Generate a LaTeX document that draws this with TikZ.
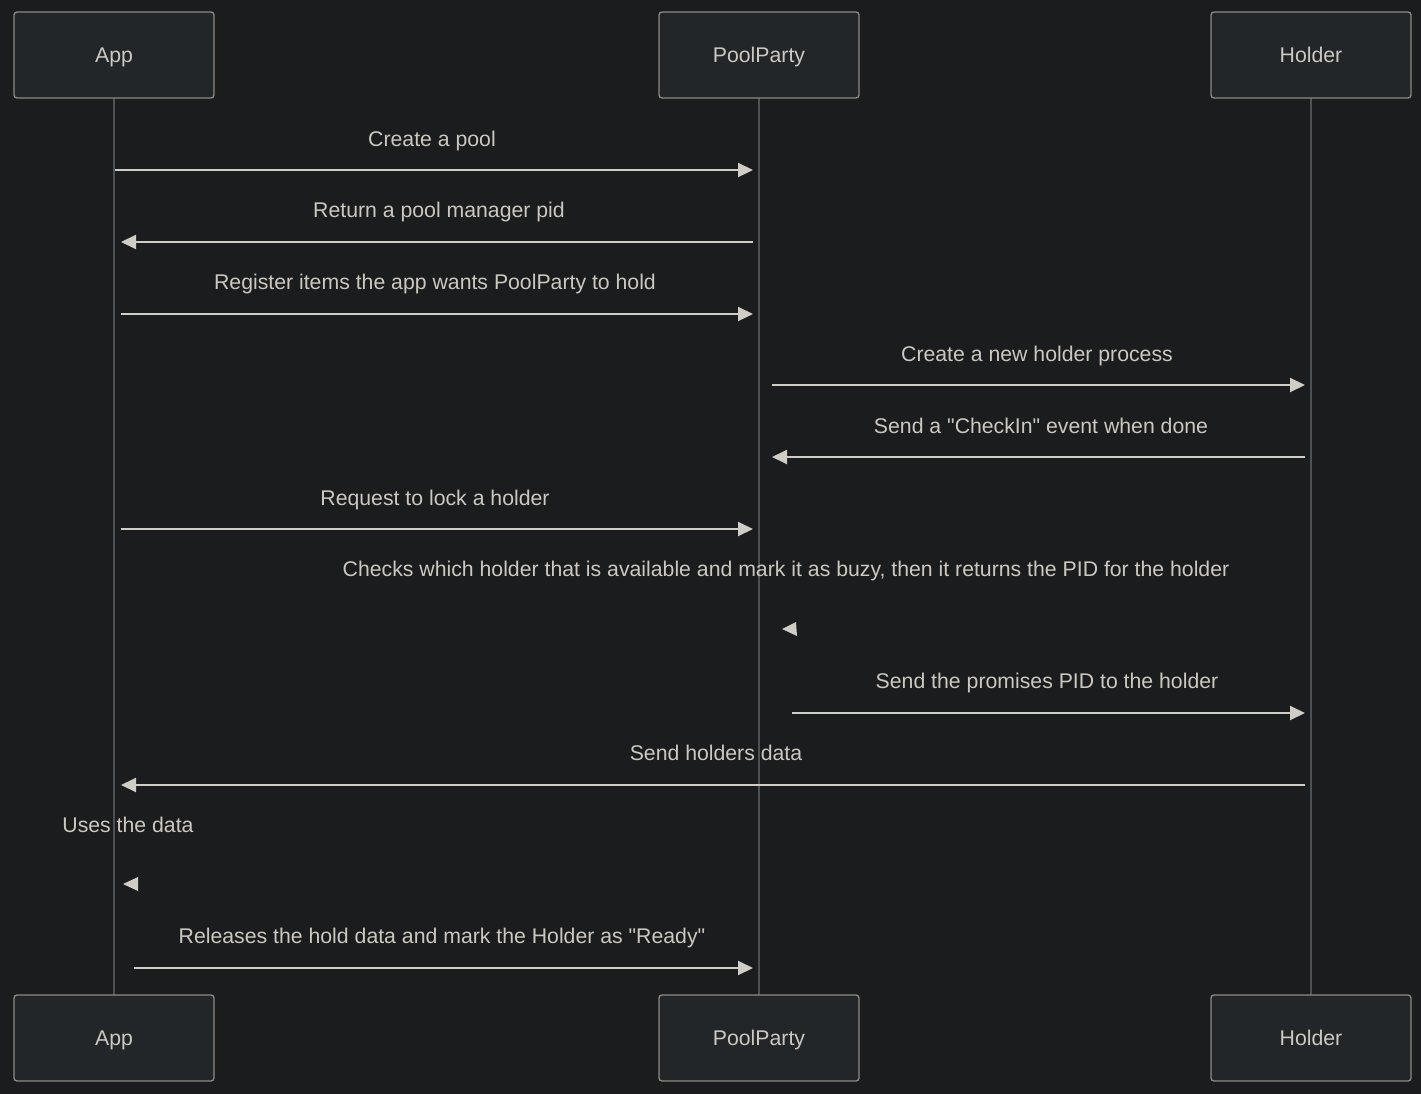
\documentclass[tikz,border=0pt]{standalone}
\usepackage{fontspec}
\setmainfont{Liberation Sans}[Ligatures=TeXOff]
\usetikzlibrary{arrows.meta}
\definecolor{bg}{HTML}{1B1C1E}
\definecolor{actfill}{HTML}{232628}
\definecolor{actline}{HTML}{8E8A82}
\definecolor{txt}{HTML}{CCC8C0}
\definecolor{life}{HTML}{4C5155}
\definecolor{msg}{HTML}{D0CDC7}
\tikzset{
  basefont/.style={font=\fontsize{21.25}{25}\selectfont, text height=15.5pt, text depth=0pt},
  actor/.style={draw=actline, fill=actfill, line width=1.3pt, rounded corners=3pt,
    minimum width=200pt, minimum height=86pt, inner sep=0pt, text=txt, basefont},
  lifeline/.style={draw=life, line width=2.5pt},
  msgline/.style={draw=msg, line width=2pt, -{Triangle[length=15pt,width=14pt]}},
  msglabel/.style={text=txt, basefont, inner sep=0pt},
  selfhead/.style={fill=msg, draw=none}
}
\begin{document}
\begin{tikzpicture}[x=1pt,y=-1pt]
  \fill[bg] (0,0) rectangle (1421,1094);
  \useasboundingbox (0,0) rectangle (1421,1094);

  % lifelines
  \draw[lifeline] (114,98) -- (114,995);
  \draw[lifeline] (759,98) -- (759,995);
  \draw[lifeline] (1311,98) -- (1311,995);

  % participants, top and bottom
  \node[actor] (appT) at (114,55) {App};
  \node[actor] (ppT)  at (759,55) {PoolParty};
  \node[actor] (hT)   at (1311,55) {Holder};
  \node[actor] (appB) at (114,1038) {App};
  \node[actor] (ppB)  at (759,1038) {PoolParty};
  \node[actor] (hB)   at (1311,1038) {Holder};

  % message end points
  \coordinate (a1) at (115,170);  \coordinate (p1) at (753,170);
  \coordinate (p2) at (753,242);  \coordinate (a2) at (121,242);
  \coordinate (a3) at (121,314);  \coordinate (p3) at (753,314);
  \coordinate (p4) at (772,385);  \coordinate (h4) at (1305,385);
  \coordinate (h5) at (1305,457); \coordinate (p5) at (772,457);
  \coordinate (a6) at (121,529);  \coordinate (p6) at (753,529);
  \coordinate (p8) at (792,713);  \coordinate (h8) at (1305,713);
  \coordinate (h9) at (1305,785); \coordinate (a9) at (121,785);
  \coordinate (a11) at (134,968); \coordinate (p11) at (753,968);

  % messages
  \node[msglabel] (l1) at (432,139) {Create a pool};
  \draw[msgline] (a1) -- (p1);
  \node[msglabel] (l2) at (439,210) {Return a pool manager pid};
  \draw[msgline] (p2) -- (a2);
  \node[msglabel] (l3) at (435,282) {Register items the app wants PoolParty to hold};
  \draw[msgline] (a3) -- (p3);
  \node[msglabel] (l4) at (1037,354) {Create a new holder process};
  \draw[msgline] (p4) -- (h4);
  \node[msglabel] (l5) at (1041,426) {Send a "CheckIn" event when done};
  \draw[msgline] (h5) -- (p5);
  \node[msglabel] (l6) at (435,498) {Request to lock a holder};
  \draw[msgline] (a6) -- (p6);

  % self message on PoolParty
  \node[msglabel] (l7) at (786,569) {Checks which holder that is available and mark it as buzy, then it returns the PID for the holder};
  \fill[selfhead] (782,629) -- (796,622) -- (797,636) -- cycle;

  \node[msglabel] (l8) at (1047,681) {Send the promises PID to the holder};
  \draw[msgline] (p8) -- (h8);
  \node[msglabel] (l9) at (716,753) {Send holders data};
  \draw[msgline] (h9) -- (a9);

  % self message on App
  \node[msglabel] (l10) at (128,825) {Uses the data};
  \fill[selfhead] (123,884) -- (138,877) -- (138,891) -- cycle;

  \node[msglabel] (l11) at (442,936) {Releases the hold data and mark the Holder as "Ready"};
  \draw[msgline] (a11) -- (p11);
\end{tikzpicture}
\end{document}
